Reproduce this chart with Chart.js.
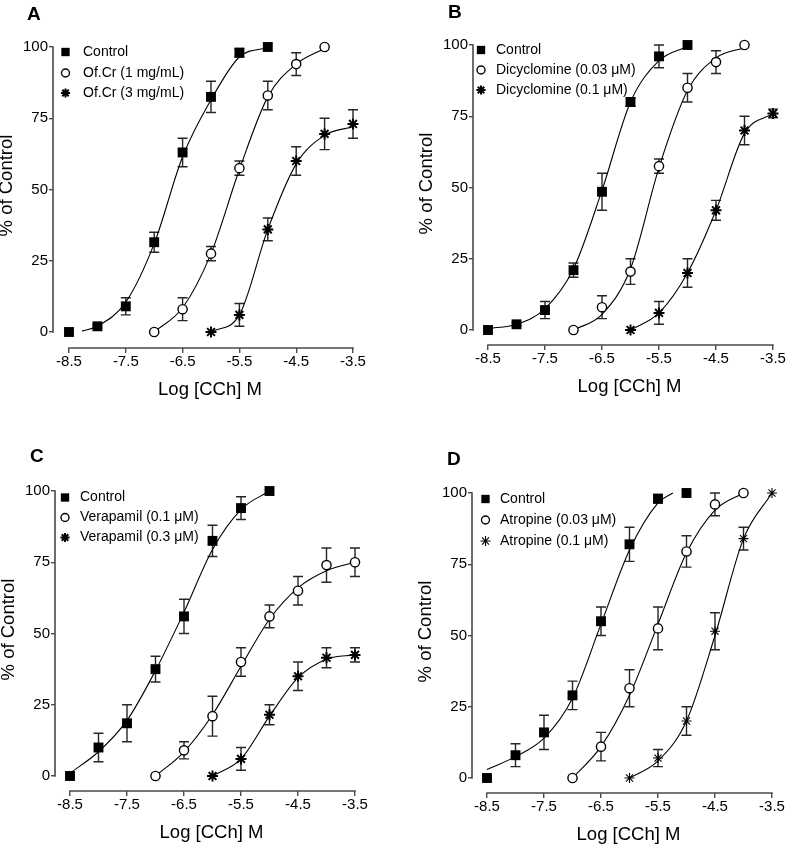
<!DOCTYPE html>
<html><head><meta charset="utf-8">
<script src="https://cdn.jsdelivr.net/npm/chart.js@4.4.1/dist/chart.umd.min.js"></script>
<style>
html,body{margin:0;padding:0;background:#fff;}
#wrap{position:relative;width:787px;height:848px;overflow:hidden;background:#fff;}
#wrap canvas{position:absolute;left:0;top:0;}
</style></head><body>
<div id="wrap">
<canvas id="cA" width="787" height="848"></canvas>
<canvas id="cB" width="787" height="848"></canvas>
<canvas id="cC" width="787" height="848"></canvas>
<canvas id="cD" width="787" height="848"></canvas>
</div>
<script>
// ---------------- data ----------------
const xTickValues = [-8.5, -7.5, -6.5, -5.5, -4.5, -3.5];
const yTickValues = [0, 25, 50, 75, 100];
const xAxisTitle = 'Log [CCh] M';
const yAxisTitle = '% of Control';

// Panel A
const aLabels = ['Control', 'Of.Cr (1 mg/mL)', 'Of.Cr (3 mg/mL)'];
const aDoseControl = [-8.5, -8, -7.5, -7, -6.5, -6, -5.5, -5];
const aMeanControl = [0, 2, 9, 31.5, 63, 82.5, 98, 100];
const aSemControl  = [0, 0.5, 3, 3.5, 5, 5.5, 1.5, 0];
const aFitXControl = [-8.27, -8, -7.5, -7, -6.5, -6, -5.5, -5];
const aFitYControl = [0.3, 2, 10.5, 31, 61.5, 81.5, 96.5, 99.8];
const aDoseOf1 = [-7, -6.5, -6, -5.5, -5, -4.5, -4];
const aMeanOf1 = [0, 8, 27.5, 57.5, 83, 94, 100];
const aSemOf1  = [0, 4, 2.5, 2.5, 5, 4, 0];
const aFitYOf1 = [0, 8.5, 27.5, 57, 82.5, 94, 99.5];
const aDoseOf3 = [-6, -5.5, -5, -4.5, -4, -3.5];
const aMeanOf3 = [0, 6, 36, 60, 69.5, 73];
const aSemOf3  = [0, 4, 4, 5, 5.5, 5];
const aFitYOf3 = [0, 6, 36, 59, 69, 72];

// Panel B
const bLabels = ['Control', 'Dicyclomine (0.03 \u03bcM)', 'Dicyclomine (0.1 \u03bcM)'];
const bDoseControl = [-8.5, -8, -7.5, -7, -6.5, -6, -5.5, -5];
const bMeanControl = [0, 2, 7, 21, 48.5, 80, 96, 100];
const bSemControl  = [0, 0.5, 3, 2.5, 6.5, 1.5, 4, 0];
const bFitYControl = [0.5, 2, 7.5, 21.5, 49, 80, 94.5, 99.5];
const bDoseDic03 = [-7, -6.5, -6, -5.5, -5, -4.5, -4];
const bMeanDic03 = [0, 8, 20.5, 57.5, 85, 94, 100];
const bSemDic03  = [0, 4, 4.5, 2.5, 5, 4, 0];
const bFitYDic03 = [0, 5.5, 21.5, 57, 84, 95.5, 99];
const bDoseDic1 = [-6, -5.5, -5, -4.5, -4, -3.5];
const bMeanDic1 = [0, 6, 20, 42, 70, 76];
const bSemDic1  = [0, 4, 5, 3.5, 5, 1.5];
const bFitYDic1 = [0, 6, 20, 42, 69, 76];

// Panel C
const cLabels = ['Control', 'Verapamil (0.1 \u03bcM)', 'Verapamil (0.3 \u03bcM)'];
const cDoseControl = [-8.5, -8, -7.5, -7, -6.5, -6, -5.5, -5];
const cMeanControl = [0, 10, 18.5, 37.5, 56, 82.5, 94, 100];
const cSemControl  = [0, 5, 6.5, 4.5, 6, 5.5, 4, 0];
const cFitYControl = [1, 8.5, 19.5, 37, 57.5, 79.5, 93.5, 100];
const cDoseVer1 = [-7, -6.5, -6, -5.5, -5, -4.5, -4, -3.5];
const cMeanVer1 = [0, 9, 21, 40, 56, 65, 74, 75];
const cSemVer1  = [0, 3, 7, 5, 4, 5, 6, 5];
const cFitYVer1 = [0, 8.5, 21.5, 38.5, 55, 66, 72, 75];
const cDoseVer3 = [-6, -5.5, -5, -4.5, -4, -3.5];
const cMeanVer3 = [0, 6, 21.5, 35, 41.5, 42.5];
const cSemVer3  = [0, 4, 3.5, 5, 3.5, 2.5];
const cFitYVer3 = [0, 6, 21, 34.5, 41, 42.5];

// Panel D
const dLabels = ['Control', 'Atropine (0.03 \u03bcM)', 'Atropine (0.1 \u03bcM)'];
const dDoseControl = [-8.5, -8, -7.5, -7, -6.5, -6, -5.5, -5];
const dMeanControl = [0, 8, 16, 29, 55, 82, 98, 100];
const dSemControl  = [0, 4, 6, 5, 5, 6, 1.5, 0];
const dFitXControl = [-8.5, -8, -7.5, -7, -6.5, -6, -5.5, -5.24];
const dFitYControl = [3, 7.5, 14, 28, 54, 80, 96.5, 100];
const dDoseAtr03 = [-7, -6.5, -6, -5.5, -5, -4.5, -4];
const dMeanAtr03 = [0, 11, 31.5, 52.5, 79.5, 96, 100];
const dSemAtr03  = [0, 5, 6.5, 7.5, 5.5, 4, 0];
const dFitYAtr03 = [0, 11, 29, 54, 79, 94, 100];
const dDoseAtr1 = [-6, -5.5, -5, -4.5, -4, -3.5];
const dMeanAtr1 = [0, 7, 20, 51.5, 84, 100];
const dSemAtr1  = [0, 3, 5, 6.5, 4, 0];
const dFitYAtr1 = [0, 6, 20, 50, 84, 100];

// ---------------- styles / layout ----------------
const FONT = '"Liberation Sans", Arial, Helvetica, sans-serif';
const AXIS_COLOR = '#4a4a4a';
const W = 787, H = 848;
const X_SCALE_H = 50, Y_SCALE_W = 50;

function markerStyles(thinStar) {
  return [
    {pointStyle: 'rect', radius: 7, borderWidth: 0, fill: '#000', stroke: '#000', legendRadius: 5.9},
    {pointStyle: 'circle', radius: 4.6, borderWidth: 1.4, fill: '#fff', stroke: '#000', legendRadius: 4},
    thinStar
      ? {pointStyle: 'star', radius: 5, borderWidth: 1.1, fill: '#000', stroke: '#000', legendRadius: 5}
      : {pointStyle: 'star', radius: 5.5, borderWidth: 2, fill: '#000', stroke: '#000', legendRadius: 4.6}
  ];
}

const panels = [
  {canvas: 'cA', letter: 'A', letterPos: [27, 20], labels: aLabels,
   geom: {axisX: 53, x0: 69, x1: 353, y100: 47, y0: 332, xAxisY: 348},
   legend: {markerDX: 12.5, textDX: 30, rows: [5, 26, 46]},
   styles: markerStyles(false),
   series: [
     {x: aDoseControl, y: aMeanControl, sem: aSemControl, fx: aFitXControl, fy: aFitYControl},
     {x: aDoseOf1, y: aMeanOf1, sem: aSemOf1, fx: aDoseOf1, fy: aFitYOf1},
     {x: aDoseOf3, y: aMeanOf3, sem: aSemOf3, fx: aDoseOf3, fy: aFitYOf3}]},
  {canvas: 'cB', letter: 'B', letterPos: [448, 18], labels: bLabels,
   geom: {axisX: 473, x0: 488, x1: 773, y100: 45, y0: 330, xAxisY: 345},
   legend: {markerDX: 8, textDX: 23, rows: [5, 25, 45]},
   styles: markerStyles(false),
   series: [
     {x: bDoseControl, y: bMeanControl, sem: bSemControl, fx: bDoseControl, fy: bFitYControl},
     {x: bDoseDic03, y: bMeanDic03, sem: bSemDic03, fx: bDoseDic03, fy: bFitYDic03},
     {x: bDoseDic1, y: bMeanDic1, sem: bSemDic1, fx: bDoseDic1, fy: bFitYDic1}]},
  {canvas: 'cC', letter: 'C', letterPos: [30, 462], labels: cLabels,
   geom: {axisX: 55, x0: 70, x1: 355, y100: 491, y0: 776, xAxisY: 791},
   legend: {markerDX: 10, textDX: 25, rows: [6.5, 26.5, 46.5]},
   styles: markerStyles(false),
   series: [
     {x: cDoseControl, y: cMeanControl, sem: cSemControl, fx: cDoseControl, fy: cFitYControl},
     {x: cDoseVer1, y: cMeanVer1, sem: cSemVer1, fx: cDoseVer1, fy: cFitYVer1},
     {x: cDoseVer3, y: cMeanVer3, sem: cSemVer3, fx: cDoseVer3, fy: cFitYVer3}]},
  {canvas: 'cD', letter: 'D', letterPos: [447, 465], labels: dLabels,
   geom: {axisX: 472, x0: 487, x1: 772, y100: 493, y0: 778, xAxisY: 793},
   legend: {markerDX: 13.5, textDX: 28, rows: [6, 27, 48]},
   styles: markerStyles(true),
   series: [
     {x: dDoseControl, y: dMeanControl, sem: dSemControl, fx: dFitXControl, fy: dFitYControl},
     {x: dDoseAtr03, y: dMeanAtr03, sem: dSemAtr03, fx: dDoseAtr03, fy: dFitYAtr03},
     {x: dDoseAtr1, y: dMeanAtr1, sem: dSemAtr1, fx: dDoseAtr1, fy: dFitYAtr1}]}
];

function drawMarker(ctx, st, r, x, y) {
  ctx.save();
  ctx.fillStyle = st.fill; ctx.strokeStyle = st.stroke; ctx.lineWidth = st.borderWidth;
  Chart.helpers.drawPoint(ctx, {pointStyle: st.pointStyle, radius: r, borderWidth: st.borderWidth, rotation: 0}, x, y);
  ctx.restore();
}

function makeDecor(panel) {
  return {
    id: 'decor',
    beforeDatasetsDraw(chart) {
      const ctx = chart.ctx, xs = chart.scales.x, ys = chart.scales.y;
      const area = chart.chartArea;
      ctx.save();
      ctx.strokeStyle = AXIS_COLOR; ctx.lineWidth = 1.6; ctx.lineCap = 'butt';
      ctx.beginPath();
      ctx.moveTo(area.left, ys.getPixelForValue(yTickValues[0]) + 0.8);
      ctx.lineTo(area.left, ys.getPixelForValue(yTickValues[yTickValues.length - 1]) - 0.8);
      ctx.moveTo(xs.getPixelForValue(xTickValues[0]) - 0.8, area.bottom);
      ctx.lineTo(xs.getPixelForValue(xTickValues[xTickValues.length - 1]) + 0.8, area.bottom);
      ctx.stroke();
      // error bars (mean +/- SEM)
      ctx.strokeStyle = '#262626'; ctx.lineWidth = 1.4;
      chart.data.datasets.forEach(ds => {
        if (!ds.sem) return;
        ds.data.forEach((pt, i) => {
          const s = ds.sem[i];
          if (!s) return;
          const px = xs.getPixelForValue(pt.x);
          const pTop = ys.getPixelForValue(pt.y + s), pBot = ys.getPixelForValue(pt.y - s);
          ctx.beginPath();
          ctx.moveTo(px, pTop); ctx.lineTo(px, pBot);
          ctx.moveTo(px - 5, pTop); ctx.lineTo(px + 5, pTop);
          ctx.moveTo(px - 5, pBot); ctx.lineTo(px + 5, pBot);
          ctx.stroke();
        });
      });
      ctx.restore();
    },
    afterDraw(chart) {
      const ctx = chart.ctx, xs = chart.scales.x, ys = chart.scales.y;
      const area = chart.chartArea;
      const top100 = ys.getPixelForValue(100), zero = ys.getPixelForValue(0);
      ctx.save();
      // legend
      ctx.font = '14px ' + FONT; ctx.textBaseline = 'middle'; ctx.textAlign = 'left';
      panel.labels.forEach((lab, i) => {
        const st = panel.styles[i];
        const my = top100 + panel.legend.rows[i];
        drawMarker(ctx, st, st.legendRadius, area.left + panel.legend.markerDX, my);
        ctx.fillStyle = '#000';
        ctx.fillText(lab, area.left + panel.legend.textDX, my);
      });
      // x axis title
      ctx.font = '18.5px ' + FONT; ctx.fillStyle = '#000';
      ctx.textAlign = 'center'; ctx.textBaseline = 'middle';
      const xc = (xs.getPixelForValue(xTickValues[0]) + xs.getPixelForValue(xTickValues[xTickValues.length - 1])) / 2 - 1;
      ctx.fillText(xAxisTitle, xc, area.bottom + 42);
      // y axis title
      ctx.save();
      ctx.translate(area.left - 46, (top100 + zero) / 2 - 4);
      ctx.rotate(-Math.PI / 2);
      ctx.fillText(yAxisTitle, 0, 0);
      ctx.restore();
      // panel letter
      ctx.font = 'bold 19px ' + FONT; ctx.textAlign = 'left'; ctx.textBaseline = 'alphabetic';
      ctx.fillText(panel.letter, panel.letterPos[0], panel.letterPos[1]);
      ctx.restore();
    }
  };
}

function buildChart(panel) {
  const g = panel.geom;
  const pxPerX = (g.x1 - g.x0) / (xTickValues[xTickValues.length - 1] - xTickValues[0]);
  const pxPerY = (g.y0 - g.y100) / 100;
  const xMin = xTickValues[0] - (g.x0 - g.axisX) / pxPerX;
  const xMax = xTickValues[xTickValues.length - 1];
  const yMin = -(g.xAxisY - g.y0) / pxPerY;
  const datasets = [];
  panel.series.forEach((s, i) => {
    const st = panel.styles[i];
    datasets.push({
      label: panel.labels[i],
      data: s.x.map((v, k) => ({x: v, y: s.y[k]})),
      sem: s.sem,
      showLine: false,
      pointStyle: st.pointStyle,
      pointRadius: st.radius,
      pointHoverRadius: st.radius,
      pointBorderWidth: st.borderWidth,
      pointHoverBorderWidth: st.borderWidth,
      pointBackgroundColor: st.fill,
      pointBorderColor: st.stroke,
      order: 0,
      clip: false
    });
  });
  panel.series.forEach((s, i) => {
    datasets.push({
      label: panel.labels[i] + ' fit',
      data: s.fx.map((v, k) => ({x: v, y: s.fy[k]})),
      showLine: true,
      pointRadius: 0,
      pointHoverRadius: 0,
      borderColor: '#000',
      borderWidth: 1.1,
      cubicInterpolationMode: 'monotone',
      fill: false,
      order: 1,
      clip: false
    });
  });
  return new Chart(document.getElementById(panel.canvas), {
    type: 'scatter',
    data: {datasets},
    plugins: [makeDecor(panel)],
    options: {
      responsive: false,
      animation: false,
      devicePixelRatio: 1,
      layout: {padding: {
        left: g.axisX - Y_SCALE_W,
        right: W - g.x1,
        top: g.y100,
        bottom: H - g.xAxisY - X_SCALE_H}},
      plugins: {legend: {display: false}, title: {display: false}, tooltip: {enabled: false}},
      events: [],
      scales: {
        x: {
          type: 'linear', min: xMin, max: xMax,
          afterBuildTicks: sc => { sc.ticks = xTickValues.map(v => ({value: v})); },
          afterFit: sc => { sc.height = X_SCALE_H; sc.paddingLeft = 0; sc.paddingRight = 0; },
          ticks: {autoSkip: false, maxRotation: 0, padding: 0, color: '#000',
                  font: {family: FONT, size: 15}, callback: v => Number(v).toFixed(1)},
          grid: {drawOnChartArea: false, drawTicks: true, tickLength: 5, color: AXIS_COLOR, lineWidth: 1.4},
          border: {display: false}
        },
        y: {
          type: 'linear', min: yMin, max: 100,
          afterBuildTicks: sc => { sc.ticks = yTickValues.map(v => ({value: v})); },
          afterFit: sc => { sc.width = Y_SCALE_W; sc.paddingTop = 0; sc.paddingBottom = 0; },
          ticks: {autoSkip: false, padding: 1, color: '#000',
                  font: {family: FONT, size: 15}, callback: v => String(v)},
          grid: {drawOnChartArea: false, drawTicks: true, tickLength: 4, color: AXIS_COLOR, lineWidth: 1.4},
          border: {display: false}
        }
      }
    }
  });
}

panels.forEach(buildChart);
</script>
</body></html>
